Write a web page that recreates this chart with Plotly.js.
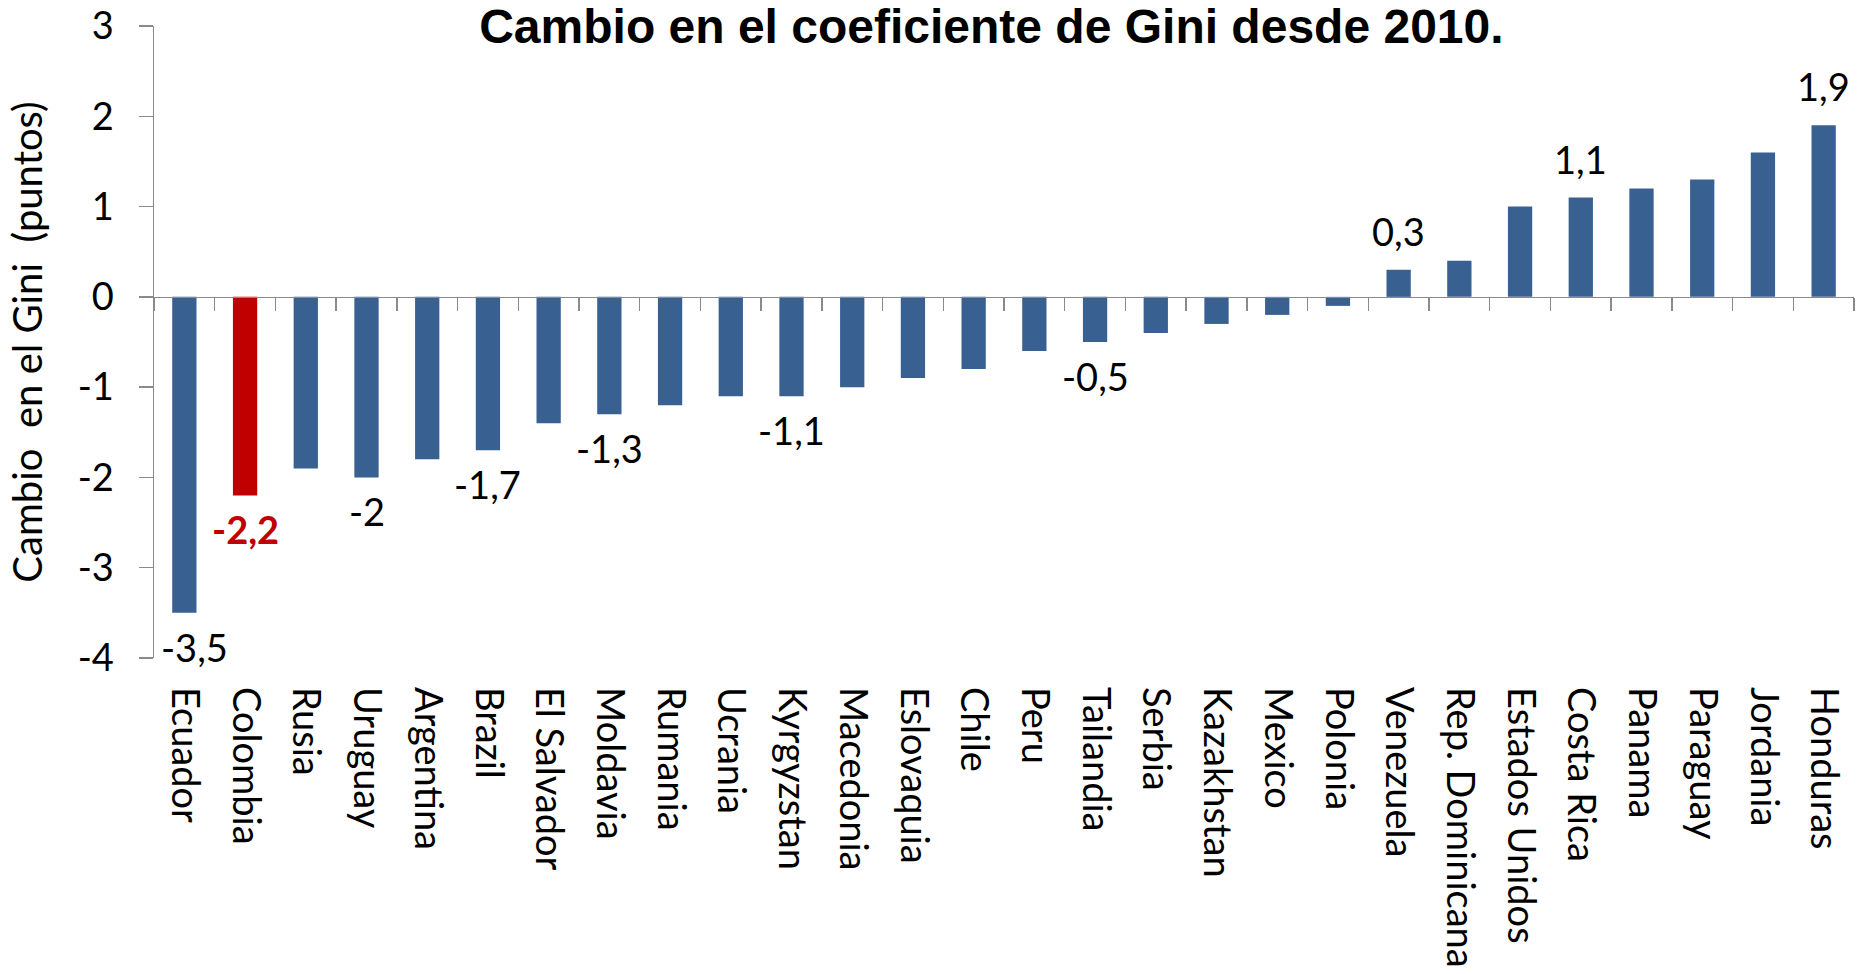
<!DOCTYPE html>
<html>
<head>
<meta charset="utf-8">
<script src="https://cdn.plot.ly/plotly-3.0.1.min.js"></script>
<style>
html,body{margin:0;padding:0;background:#fff;}
#chart{width:1860px;height:974px;}
</style>
</head>
<body>
<div id="chart"></div>
<script>
// ---- data ----
var countries = ["Ecuador","Colombia","Rusia","Uruguay","Argentina","Brazil","El Salvador","Moldavia","Rumania","Ucrania","Kyrgyzstan","Macedonia","Eslovaquia","Chile","Peru","Tailandia","Serbia","Kazakhstan","Mexico","Polonia","Venezuela","Rep. Dominicana","Estados Unidos","Costa Rica","Panama","Paraguay","Jordania","Honduras"];
var giniChange = [-3.5,-2.2,-1.9,-2.0,-1.8,-1.7,-1.4,-1.3,-1.2,-1.1,-1.1,-1.0,-0.9,-0.8,-0.6,-0.5,-0.4,-0.3,-0.2,-0.1,0.3,0.4,1.0,1.1,1.2,1.3,1.6,1.9];
var labeledCountries = ["Ecuador","Colombia","Uruguay","Brazil","Moldavia","Kyrgyzstan","Tailandia","Venezuela","Costa Rica","Honduras"];
var highlightCountry = "Colombia";
var yTickValues = [-4,-3,-2,-1,0,1,2,3];
var yTickLabels = ["-4","-3","-2","-1","0","1","2","3"];

// ---- styles ----
var BLUE = "#386192", RED = "#C00000", AXIS = "#8a8a8a";
var FONT = "Lato, 'Open Sans', sans-serif";
var FS = 38;
var yMin = yTickValues[0], yMax = yTickValues[yTickValues.length-1];

var colors = countries.map(function(c){ return c === highlightCountry ? RED : BLUE; });
var idx = countries.map(function(c,i){ return i; });
var boundaries = [];
for (var i = 0; i <= countries.length; i++) boundaries.push(i - 0.5);

function fmt(v){ return String(v).replace('.', ','); }

var annotations = [];
countries.forEach(function(c, i){
  if (labeledCountries.indexOf(c) < 0) return;
  var v = giniChange[i];
  var hl = c === highlightCountry;
  annotations.push({
    x: c, y: v, xref: 'x', yref: 'y',
    text: hl ? '<b>' + fmt(v) + '</b>' : fmt(v),
    showarrow: false,
    yanchor: v < 0 ? 'top' : 'bottom',
    yshift: v < 0 ? -9 : 14,
    xshift: i === 0 ? 10 : 0,
    font: {family: FONT, size: FS, color: hl ? RED : '#000'}
  });
});

var traces = [
  {
    type: 'bar', x: countries, y: giniChange,
    marker: {color: colors},
    hoverinfo: 'x+y', showlegend: false
  },
  {
    type: 'scatter', mode: 'markers', x: idx, y: giniChange,
    xaxis: 'x2', yaxis: 'y',
    marker: {opacity: 0}, hoverinfo: 'skip', showlegend: false
  }
];

var layout = {
  width: 1860, height: 974,
  margin: {l: 154, r: 6, t: 26, b: 316},
  paper_bgcolor: '#fff', plot_bgcolor: '#fff',
  bargap: 0.6,
  showlegend: false,
  title: {
    text: '<b>Cambio en el coeficiente de Gini desde 2010.</b>',
    font: {family: "'Liberation Sans', Arial, sans-serif", size: 48, color: '#000'},
    xref: 'container', x: 0.533, xanchor: 'center',
    yref: 'container', y: 0.99, yanchor: 'top'
  },
  xaxis: {
    type: 'category', categoryorder: 'array', categoryarray: countries,
    range: [-0.5, countries.length - 0.5],
    tickangle: 90, ticks: '', showline: false, showgrid: false, zeroline: false,
    tickfont: {family: FONT, size: FS, color: '#000'},
    ticklabelstandoff: 28
  },
  xaxis2: {
    overlaying: 'x', anchor: 'free', position: (0 - yMin) / (yMax - yMin),
    range: [-0.5, countries.length - 0.5],
    tickmode: 'array', tickvals: boundaries,
    ticks: 'outside', ticklen: 13, tickwidth: 1.5, tickcolor: AXIS,
    showline: true, linecolor: AXIS, linewidth: 1.5,
    showticklabels: false, showgrid: false, zeroline: false
  },
  yaxis: {
    range: [yMin, yMax],
    tickmode: 'array', tickvals: yTickValues, ticktext: yTickLabels,
    ticks: 'outside', ticklen: 14, tickwidth: 1.5, tickcolor: AXIS,
    showline: true, linecolor: AXIS, linewidth: 1.5,
    showgrid: false, zeroline: false,
    tickfont: {family: FONT, size: FS, color: '#000'},
    ticklabelstandoff: 17,
    title: {
      text: 'Cambio\u00a0 en el Gini\u00a0 (puntos)',
      font: {family: FONT, size: 40, color: '#000'},
      standoff: 22
    }
  },
  annotations: annotations
};

Plotly.newPlot('chart', traces, layout, {displayModeBar: false, staticPlot: true});
</script>
</body>
</html>
